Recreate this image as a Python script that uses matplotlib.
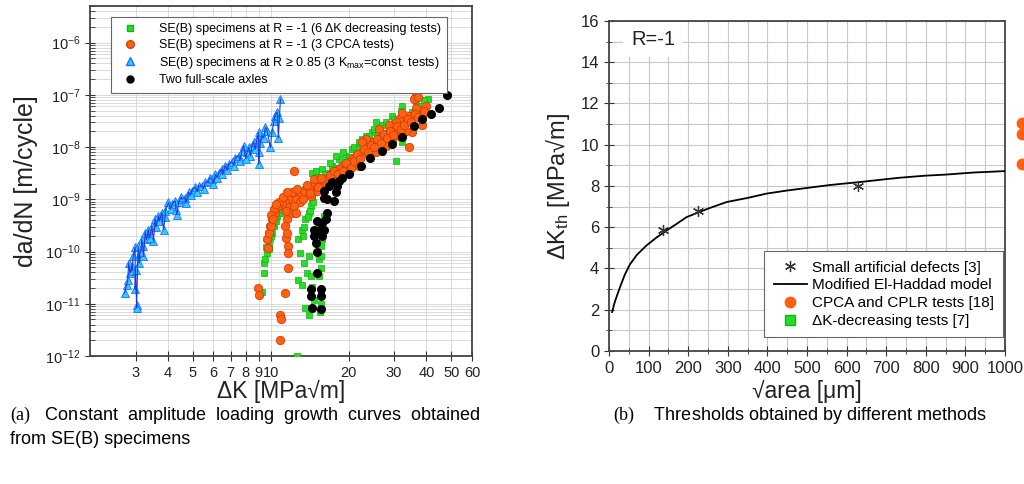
import matplotlib
matplotlib.use("Agg")
import matplotlib.pyplot as plt
import matplotlib.ticker as mticker
from matplotlib.lines import Line2D
import numpy as np

plt.rcParams['font.family'] = ['Liberation Sans', 'DejaVu Sans']
plt.rcParams['mathtext.fontset'] = 'custom'
plt.rcParams['mathtext.rm'] = 'Liberation Serif'
plt.rcParams['mathtext.sf'] = 'Liberation Sans'
plt.rcParams['mathtext.it'] = 'Liberation Sans:italic'

# ---- (a) crack growth data: dK [MPa sqrt(m)], da/dN [m/cycle]
blue_dk = [2.72, 2.77, 2.86, 2.82, 2.90, 2.99, 3.03, 3.03, 2.94, 2.99, 3.07, 3.12, 3.17, 3.27,
           3.31, 3.36, 3.47, 3.57, 3.68, 3.79, 3.91, 4.02, 4.15, 4.27, 4.40, 4.53, 4.67, 4.81,
           4.95, 5.10, 5.26, 5.42, 5.58, 5.75, 5.92, 6.10, 6.29, 6.48, 6.67, 6.87, 7.08, 7.29,
           7.52, 7.74, 7.86, 8.09, 8.22, 8.47, 8.59, 8.85, 8.98, 9.25, 9.53, 9.68, 9.97, 10.1,
           10.4, 10.6, 10.7, 10.9,
           3.52, 3.85, 4.34, 8.34, 8.98, 8.98, 3.22, 2.90, 3.1, 3.2, 3.4, 3.6, 3.7, 3.9, 4.1,
           4.3, 4.5, 4.7, 4.9, 5.2, 5.5, 5.8, 6.0, 6.2, 6.5, 6.8, 7.2, 7.6, 8.0, 8.7, 9.1, 9.4,
           10.3, 10.8, 2.80, 3.0, 3.15]
blue_rate = [1.6e-11, 2.3e-11, 3.9e-11, 6.0e-11, 5.2e-11, 1.9e-11, 9.5e-12, 8.3e-12, 8.1e-11,
             1.2e-10, 1.26e-10, 9.3e-11, 1.7e-10, 2.3e-10, 1.7e-10, 2.6e-10, 3.1e-10, 4.1e-10,
             4.8e-10, 5.5e-10, 6.0e-10, 8.7e-10, 8.0e-10, 9.3e-10, 8.7e-10, 1.0e-9, 1.07e-9,
             1.35e-9, 1.45e-9, 1.7e-9, 1.8e-9, 1.8e-9, 2.1e-9, 2.2e-9, 2.4e-9, 3.0e-9, 3.2e-9,
             3.8e-9, 4.4e-9, 4.7e-9, 5.1e-9, 6.3e-9, 6.8e-9, 8.5e-9, 1.07e-8, 7.9e-9, 9.8e-9,
             1.07e-8, 1.23e-8, 1.4e-8, 1.9e-8, 1.65e-8, 2.4e-8, 2.05e-8, 9.8e-9, 1.9e-8, 4.0e-8,
             4.7e-8, 1.5e-8, 8.3e-8,
             1.6e-10, 2.6e-10, 5.1e-10, 6.8e-9, 4.7e-9, 7.9e-9, 8.1e-11, 4.2e-11, 6.0e-11,
             1.3e-10, 1.8e-10, 3.0e-10, 3.8e-10, 4.5e-10, 6.5e-10, 6.2e-10, 1.1e-9, 8.5e-10,
             1.2e-9, 1.4e-9, 1.6e-9, 2.6e-9, 2.0e-9, 2.6e-9, 3.0e-9, 3.6e-9, 4.4e-9, 5.5e-9,
             6.0e-9, 9.0e-9, 1.2e-8, 1.5e-8, 3.2e-8, 3.6e-8, 2.8e-11, 4.5e-11, 1.0e-10]

green_dk = [40.4, 38.6, 35.3, 32.3, 29.5, 27.0, 25.5, 24.7, 23.3, 21.9, 20.7, 19.5, 18.4, 17.3,
            16.8, 15.8, 14.9, 14.5, 14.0, 13.6, 30.4, 32.3, 31.3, 27.8, 24.0, 21.3, 20.1, 36.4,
            28.6, 22.6, 17.8, 15.4,
            15.0, 16.2, 17.0, 18.0, 19.0, 20.0, 21.0, 22.0, 23.0, 24.0, 25.0, 26.0, 28.0, 30.0,
            32.0, 34.0, 37.0, 39.0,
            9.25, 9.39, 9.39, 9.53, 9.68, 9.82, 9.97, 10.1, 10.3, 10.4, 10.6, 10.9, 9.82,
            10.0, 10.2, 10.5, 9.6, 10.8,
            12.6, 12.8, 13.2, 13.6, 14.0, 14.3, 14.5, 14.7, 14.9, 13.0, 13.4, 14.0, 13.8, 14.3,
            14.5, 14.0, 13.6, 14.7, 12.8, 13.2, 13.5, 13.9, 14.2, 14.6, 13.3,
            15.4, 15.6, 15.6, 15.8, 15.4, 15.7, 16.0, 15.6, 15.4, 15.5, 15.6, 15.7]
green_rate = [8.3e-8, 5.4e-8, 4.7e-8, 6.2e-8, 4.0e-8, 2.6e-8, 3.0e-8, 1.9e-8, 1.66e-8, 1.23e-8,
              9.1e-9, 6.8e-9, 5.9e-9, 4.4e-9, 3.2e-9, 3.8e-9, 2.8e-9, 3.2e-9, 1.8e-9, 1.55e-9,
              5.5e-9, 1.23e-8, 2.6e-8, 1.4e-8, 1.07e-8, 5.9e-9, 4.4e-9, 7.0e-8, 2.2e-8, 1.4e-8,
              6.8e-9, 2.4e-9,
              3.5e-9, 3.0e-9, 5.0e-9, 4.0e-9, 8.0e-9, 6.5e-9, 1.0e-8, 9.0e-9, 1.3e-8, 1.6e-8,
              2.2e-8, 1.8e-8, 3.0e-8, 3.5e-8, 5.0e-8, 3.2e-8, 6.0e-8, 8.0e-8,
              1.7e-11, 3.9e-11, 6.0e-11, 7.1e-11, 9.3e-11, 1.1e-10, 1.7e-10, 2.3e-10, 3.1e-10,
              4.2e-10, 4.8e-10, 5.5e-10, 1.26e-10,
              2.0e-10, 3.5e-10, 3.8e-10, 1.2e-10, 6.5e-10,
              1.0e-12, 1.7e-10, 2.6e-10, 4.2e-10, 5.5e-10, 7.4e-10, 1.0e-9, 1.35e-9, 1.8e-9,
              9.3e-11, 6.0e-11, 8.1e-11, 3.9e-11, 3.4e-11, 2.1e-11, 6.2e-12, 8.3e-12, 1.2e-11,
              2.9e-11, 2.3e-11, 3.0e-10, 4.5e-10, 6.0e-10, 9.0e-10, 2.0e-10,
              7.1e-11, 8.1e-11, 1.26e-10, 1.7e-10, 2.3e-10, 3.1e-10, 4.8e-10, 4.9e-11, 3.4e-11,
              7.1e-12, 1.0e-11, 1.6e-11]

orange_dk = [36.4, 35.8, 39.8, 37.5, 34.3, 33.2, 31.3, 30.4, 28.6, 27.0, 26.2, 24.7, 23.3, 22.6,
             21.3, 20.7, 20.1, 18.9, 18.4, 17.8, 17.3, 16.8, 16.3, 15.4, 14.9, 14.5, 14.0, 13.6,
             13.2, 12.8, 12.5, 12.1, 11.7, 11.4, 11.1, 10.7, 10.4, 10.1, 9.97, 9.82, 12.3, 34.3,
             38.6, 35.3, 32.3, 29.5, 27.8, 25.5, 24.0, 21.9, 20.1, 18.6, 17.3, 16.0, 15.1, 14.3,
             13.0, 30.4, 28.6, 26.2, 23.3, 22.6, 33.2, 31.3, 36.4, 38.6, 32.3,
             12.0, 12.6, 13.3, 13.8, 14.2, 14.7, 15.2, 15.7, 16.5, 17.0, 17.6, 18.2, 19.0, 19.6,
             20.4, 21.0, 21.6, 22.2, 23.0, 23.8, 24.4, 25.0, 25.8, 26.6, 27.4, 28.2, 29.0, 29.8,
             30.8, 31.8, 32.8, 33.8, 35.0, 36.0, 37.0, 39.0, 37.0,
             10.3, 10.8, 11.2, 11.6, 10.5, 10.0, 11.6, 11.5, 11.8,
             9.68, 9.88, 10.06, 10.2, 9.76, 11.4, 11.6, 11.7, 11.7, 11.7, 11.4, 10.9, 11.0, 10.9,
             8.93, 8.98, 12.1, 12.3, 12.5, 11.5]
orange_rate = [1.05e-7, 8.3e-8, 6.2e-8, 4.7e-8, 4.0e-8, 3.0e-8, 3.5e-8, 2.2e-8, 1.9e-8, 1.66e-8,
               1.4e-8, 1.23e-8, 1.07e-8, 7.9e-9, 6.8e-9, 5.9e-9, 5.1e-9, 4.4e-9, 3.8e-9, 2.8e-9,
               2.4e-9, 2.2e-9, 2.4e-9, 2.2e-9, 2.1e-9, 1.8e-9, 1.55e-9, 1.45e-9, 1.35e-9, 1.15e-9,
               1.0e-9, 1.35e-9, 1.0e-9, 8.7e-10, 8.0e-10, 7.4e-10, 5.5e-10, 4.2e-10, 3.1e-10,
               2.3e-10, 3.5e-9, 9.8e-9, 2.6e-8, 1.9e-8, 1.9e-8, 1.23e-8, 1.07e-8, 7.9e-9, 6.8e-9,
               4.4e-9, 3.2e-9, 2.8e-9, 3.2e-9, 1.8e-9, 1.45e-9, 1.15e-9, 8.7e-10, 3.0e-8, 2.6e-8,
               2.2e-8, 1.4e-8, 1.23e-8, 2.0e-8, 1.66e-8, 5.5e-8, 4.0e-8, 4.5e-8,
               7.0e-10, 1.6e-9, 1.0e-9, 1.9e-9, 1.3e-9, 2.4e-9, 1.7e-9, 2.6e-9, 2.0e-9, 2.9e-9,
               3.5e-9, 3.0e-9, 3.5e-9, 5.0e-9, 4.0e-9, 5.5e-9, 7.5e-9, 6.0e-9, 9.0e-9, 8.0e-9,
               1.1e-8, 1.0e-8, 1.4e-8, 1.2e-8, 1.8e-8, 1.5e-8, 2.0e-8, 1.7e-8, 2.5e-8, 2.2e-8,
               2.6e-8, 3.4e-8, 3.0e-8, 4.2e-8, 3.8e-8, 5.0e-8, 9.0e-8,
               6.5e-10, 9.0e-10, 1.1e-9, 1.4e-9, 8.0e-10, 5.0e-10, 4.2e-10, 1.8e-10, 7.0e-10,
               1.7e-10, 2.3e-10, 3.1e-10, 4.2e-10, 1.18e-10, 3.1e-10, 2.3e-10, 1.26e-10, 9.3e-11,
               4.9e-11, 1.6e-11, 6.2e-12, 5.2e-12, 2.0e-12, 2.0e-11, 1.5e-11, 5.5e-10, 7.4e-10,
               5.5e-10, 6.0e-10]

black_dk = [48.2, 44.6, 41.6, 38.6, 35.8, 32.3, 29.5, 27.0, 24.3, 22.3, 20.1, 18.9, 18.4, 18.1,
            17.3, 16.8, 17.8, 17.5, 16.5, 16.0, 16.0, 16.5, 16.3, 15.8, 15.1, 15.4, 14.7, 16.0,
            15.8, 14.7, 14.9, 15.1, 15.1, 14.3, 15.6, 14.3, 15.6, 14.5, 15.6]
black_rate = [9.8e-8, 5.5e-8, 4.3e-8, 3.5e-8, 2.5e-8, 1.55e-8, 1.15e-8, 8.5e-9, 6.3e-9, 4.4e-9,
              3.0e-9, 2.6e-9, 2.2e-9, 1.8e-9, 2.1e-9, 1.8e-9, 1.35e-9, 9.3e-10, 1.0e-9, 1.45e-9,
              1.07e-9, 5.5e-10, 4.2e-10, 3.5e-10, 3.8e-10, 2.6e-10, 2.6e-10, 2.6e-10, 2.0e-10,
              2.0e-10, 1.45e-10, 1.0e-10, 3.9e-11, 1.9e-11, 1.9e-11, 1.4e-11, 1.4e-11, 8.3e-12,
              7.9e-12]

xticks_a = [3, 4, 5, 6, 7, 8, 9, 10, 20, 30, 40, 50, 60]
xlabels_a = ['3', '4', '5', '6', '7', '8', '9', '10', '20', '30', '40', '50', '60']
yexp_a = [-12, -11, -10, -9, -8, -7, -6]

# ---- (b) thresholds: sqrt(area) [um], dK_th [MPa sqrt(m)]
defect_area = [137, 226, 630]
defect_dkth = [5.85, 6.79, 7.98]
model_area = [8, 15, 28, 40, 53, 70, 95, 120, 146, 170, 196, 250, 297, 350, 398, 450, 499,
              560, 634, 700, 735, 800, 850, 920, 1000]
model_dkth = [1.89, 2.4, 3.1, 3.7, 4.2, 4.65, 5.12, 5.5, 5.85, 6.15, 6.49, 6.9, 7.22, 7.42,
              7.63, 7.78, 7.9, 8.05, 8.19, 8.33, 8.4, 8.5, 8.55, 8.65, 8.72]
cpca_area = [1043, 1043, 1043]
cpca_dkth = [11.05, 10.5, 9.07]

fig = plt.figure(figsize=(10.24, 4.84), dpi=100)
green = '#27dc27'
green_e = '#14b014'
orange = '#ff6012'
orange_e = '#cf4008'

# ================= (a)
ax = fig.add_axes([0.0879, 0.2645, 0.373, 0.723])
ax.set_xscale('log')
ax.set_yscale('log')
ax.grid(True, which='both', color='#d4d4d4', lw=0.6)
ax.set_axisbelow(True)
ax.plot(green_dk, green_rate, 's', ms=5, mfc=green, mec=green_e, mew=0.5, zorder=3)
ax.plot(orange_dk, orange_rate, 'o', ms=6, mfc=orange, mec=orange_e, mew=0.6, zorder=4)
ax.plot(black_dk, black_rate, 'o', ms=5.5, mfc='black', mec='black', zorder=5)
order = np.argsort(blue_dk)
ax.plot(np.array(blue_dk)[order], np.array(blue_rate)[order], '-', color='#2038e0', lw=0.8,
        zorder=4)
ax.plot(blue_dk, blue_rate, '^', ms=6, mfc='#33ccff', mec='#1a70ff', mew=0.6, zorder=3)
ax.set_xlim(2, 60)
ax.set_ylim(1e-12, 5e-6)
ax.xaxis.set_major_locator(mticker.FixedLocator(xticks_a))
ax.xaxis.set_major_formatter(mticker.FixedFormatter(xlabels_a))
ax.xaxis.set_minor_locator(mticker.NullLocator())
ax.set_yticks([10.0 ** e for e in yexp_a])
ax.set_yticklabels([r'$\mathsf{10^{%d}}$' % e for e in yexp_a])
ax.yaxis.set_minor_locator(mticker.LogLocator(base=10, subs=range(2, 10), numticks=20))
ax.yaxis.set_minor_formatter(mticker.NullFormatter())
ax.tick_params(axis='both', which='major', labelsize=10.5, direction='inout', length=7,
               color='#333333', labelcolor='#222222')
ax.tick_params(axis='y', which='minor', direction='in', length=3.5, color='#333333')
for s in ax.spines.values():
    s.set_color('#444444')
    s.set_linewidth(1.3)
ax.set_xlabel('ΔK [MPa√m]', fontsize=16.5, color='#222222', labelpad=0)
ax.set_ylabel('da/dN [m/cycle]', fontsize=18, color='#222222', labelpad=5)

h_a = [Line2D([], [], ls='', marker='s', ms=5, mfc=green, mec=green_e),
       Line2D([], [], ls='', marker='o', ms=5.5, mfc=orange, mec=orange_e),
       Line2D([], [], ls='', marker='^', ms=6, mfc='#33ccff', mec='#1a70ff'),
       Line2D([], [], ls='', marker='o', ms=5, mfc='black', mec='black')]
l_a = ['SE(B) specimens at R = -1 (6 ΔK decreasing tests)',
       'SE(B) specimens at R = -1 (3 CPCA tests)',
       r'SE(B) specimens at R ≥ 0.85 (3 K$_{\mathsf{max}}$=const. tests)',
       'Two full-scale axles']
leg = ax.legend(h_a, l_a, loc='upper left', bbox_to_anchor=(0.055, 0.969), borderaxespad=0,
                fontsize=9, frameon=True, fancybox=False, edgecolor='#666666', framealpha=1,
                handletextpad=1.3, borderpad=0.5, labelspacing=0.3)
leg.get_frame().set_linewidth(0.8)

# ================= (b)
bx = fig.add_axes([0.5947, 0.2748, 0.3867, 0.682])
bx.set_xlim(0, 1000)
bx.set_ylim(0, 16)
bx.xaxis.set_major_locator(mticker.MultipleLocator(100))
bx.xaxis.set_minor_locator(mticker.MultipleLocator(50))
bx.yaxis.set_major_locator(mticker.MultipleLocator(2))
bx.yaxis.set_minor_locator(mticker.MultipleLocator(1))
bx.grid(True, which='both', color='#c8c8c8', lw=0.8)
bx.set_axisbelow(True)
bx.plot(model_area, model_dkth, '-', color='black', lw=1.3, zorder=3)
bx.plot(defect_area, defect_dkth, ls='', marker=(6, 2, 0), ms=8, mec='#333333', mew=0.9,
        zorder=4)
bx.plot(cpca_area, cpca_dkth, 'o', ms=7.5, mfc=orange, mec=orange, clip_on=False, zorder=5)
bx.tick_params(axis='both', which='major', labelsize=12, direction='inout', length=7,
               color='#333333', labelcolor='#222222')
bx.tick_params(axis='both', which='minor', direction='inout', length=4, color='#333333')
for s in bx.spines.values():
    s.set_color('#444444')
    s.set_linewidth(1.3)
bx.set_xlabel('√area [μm]', fontsize=16.5, color='#222222', labelpad=3)
bx.set_ylabel(r'ΔK$_{\mathsf{th}}$ [MPa√m]', fontsize=17, color='#222222', labelpad=6)
bx.text(111, 15.1, 'R=-1', fontsize=14.5, color='#222222', ha='center', va='center',
        bbox=dict(facecolor='white', edgecolor='none', pad=6))

h_b = [Line2D([], [], ls='', marker=(6, 2, 0), ms=8, mec='#333333', mew=0.9),
       Line2D([], [], ls='-', color='black', lw=1.3),
       Line2D([], [], ls='', marker='o', ms=7.5, mfc=orange, mec=orange),
       Line2D([], [], ls='', marker='s', ms=6.5, mfc=green, mec=green_e)]
l_b = ['Small artificial defects [3]', 'Modified El-Haddad model',
       'CPCA and CPLR tests [18]', 'ΔK-decreasing tests [7]']
leg2 = bx.legend(h_b, l_b, loc='lower right', bbox_to_anchor=(0.995, 0.042), borderaxespad=0,
                 fontsize=11, frameon=True, fancybox=False, edgecolor='#666666',
                 framealpha=1, handlelength=2.2, handletextpad=0.3, borderpad=0.6,
                 labelspacing=0.25)
leg2.get_frame().set_linewidth(0.8)

# ================= captions ("(a)"/"(b)" in serif via mathtext rm)
fig.text(0.0098, 1 - 415 / 484,
         r'$\mathrm{(a)}$   Constant  amplitude  loading  growth  curves  obtained',
         fontsize=13, va='center')
fig.text(0.0098, 1 - 439 / 484, 'from SE(B) specimens', fontsize=13, va='center')
fig.text(0.599, 1 - 415 / 484, r'$\mathrm{(b)}$    Thresholds obtained by different methods',
         fontsize=13, va='center')

fig.savefig('out.png', dpi=100)
